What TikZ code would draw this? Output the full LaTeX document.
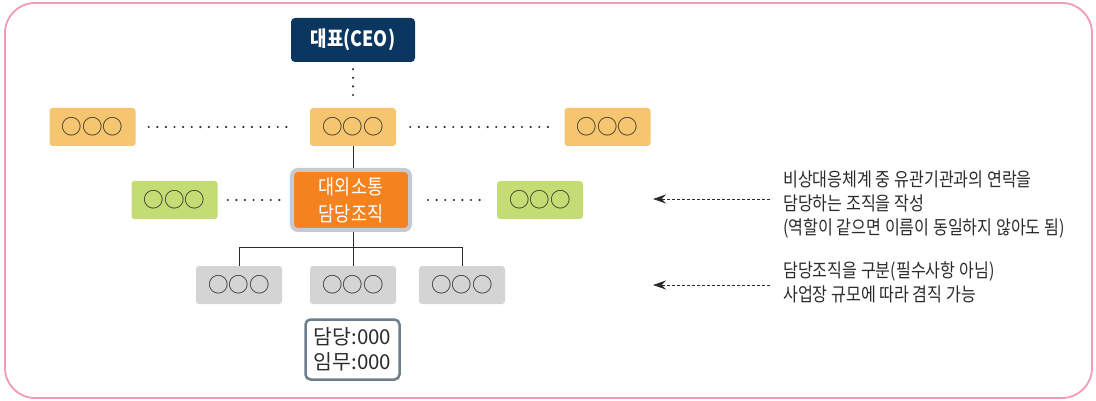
\documentclass[tikz,border=0pt]{standalone}
\usepackage{fontspec}
\setmainfont{Noto Sans CJK KR}[FakeStretch=0.85]
\newfontfamily\plainfont{Noto Sans CJK KR}
\usetikzlibrary{arrows.meta}
\definecolor{navy}{HTML}{0B3660}
\definecolor{lightorange}{HTML}{F6C56F}
\definecolor{deeporange}{HTML}{F4831F}
\definecolor{leafgreen}{HTML}{C4DC74}
\definecolor{boxgray}{HTML}{D4D4D4}
\definecolor{rimgray}{HTML}{C6C9CE}
\definecolor{slate}{HTML}{6E7E8B}
\definecolor{framepink}{HTML}{F29BB2}
\definecolor{ink}{HTML}{2B2B2B}
\newcommand{\ooo}{{\plainfont ○○○}}
\tikzset{
  unitbox/.style={rounded corners=3pt, minimum width=86pt, minimum height=38pt,
    inner sep=0pt, text=ink, font=\fontsize{20.5}{20.5}\selectfont},
  ybox/.style={unitbox, fill=lightorange},
  gbox/.style={unitbox, fill=leafgreen},
  graybox/.style={unitbox, fill=boxgray},
  dotline/.style={line width=2.4pt, line cap=round, dash pattern=on 0pt off 8.6pt, ink},
  treeline/.style={line width=1pt, ink},
  notearrow/.style={line width=0.9pt, dash pattern=on 3pt off 2pt, ink,
    -{Stealth[length=13pt, width=9pt]}},
  note/.style={align=left, anchor=north west, inner sep=0pt, text=ink,
    font=\fontsize{19}{24}\selectfont}
}
\begin{document}
\begin{tikzpicture}[x=1pt, y=-1pt]
\useasboundingbox (0,0) rectangle (1096,401);
% outer frame
\draw[framepink, line width=1.8pt, rounded corners=30pt] (5,3) rectangle (1092,398);

% top of the chart
\node[fill=navy, rounded corners=4pt, minimum width=124pt, minimum height=44pt, inner sep=0pt,
      text=white, font=\fontsize{21}{21}\selectfont\bfseries] (ceo) at (353,40) {대표(CEO)};
\node[ybox] (ym) at (353,127) {\ooo};
\node[ybox] (yl) at (92.5,127) {\ooo};
\node[ybox] (yr) at (607.5,127) {\ooo};

% communication unit
\node[fill=deeporange, draw=rimgray, line width=4pt, rounded corners=6pt,
      minimum width=118pt, minimum height=60pt, inner sep=0pt, align=center,
      text=white, font=\fontsize{20.5}{27}\selectfont] (comm) at (351,200) {대외소통\\담당조직};
\node[gbox] (gl) at (174.5,200) {\ooo};
\node[gbox] (gr) at (540,200) {\ooo};

% lower units
\node[graybox] (s1) at (239,285) {\ooo};
\node[graybox] (s2) at (353,285) {\ooo};
\node[graybox] (s3) at (462,285) {\ooo};

% duty card
\node[draw=slate, line width=2.5pt, rounded corners=5pt, fill=white,
      minimum width=94pt, minimum height=60pt, inner sep=0pt, align=left,
      text=ink, font=\plainfont\fontsize{20.5}{25}\selectfont] (card) at (352.5,349.5)
      {담당:000\\임무:000};

% dotted links
\draw[dotline, shorten <=7pt, shorten >=7pt] (ceo.south) -- (ym.north);
\draw[dotline, shorten <=13pt, shorten >=17pt] (yl.east) -- (ym.west);
\draw[dotline, shorten <=14pt, shorten >=12pt] (ym.east) -- (yr.west);
\draw[dotline, shorten <=10pt, shorten >=8pt] (gl.east) -- (comm.west);
\draw[dotline, shorten <=16pt, shorten >=10pt] (comm.east) -- (gr.west);

% solid tree
\draw[treeline] (ym.south) -- (ym.south |- comm.north);
\draw[treeline] (s2.north |- comm.south) -- (s2.north);
\draw[treeline] (s1.north) -- ++(0,-18) -| (s3.north);

% notes
\node[note] (n1) at (783,171) {비상대응체계 중 유관기관과의 연락을\\담당하는 조직을 작성\\(역할이 같으면 이름이 동일하지 않아도 됨)};
\node[note] (n2) at (783,261) {담당조직을 구분(필수사항 아님)\\사업장 규모에 따라 겸직 가능};
\coordinate (t1) at (653,199);
\coordinate (t2) at (653,285);
\draw[notearrow] (n1.west |- t1) ++(-13,0) -- (t1);
\draw[notearrow] (n2.west |- t2) ++(-13,0) -- (t2);
\end{tikzpicture}
\end{document}
